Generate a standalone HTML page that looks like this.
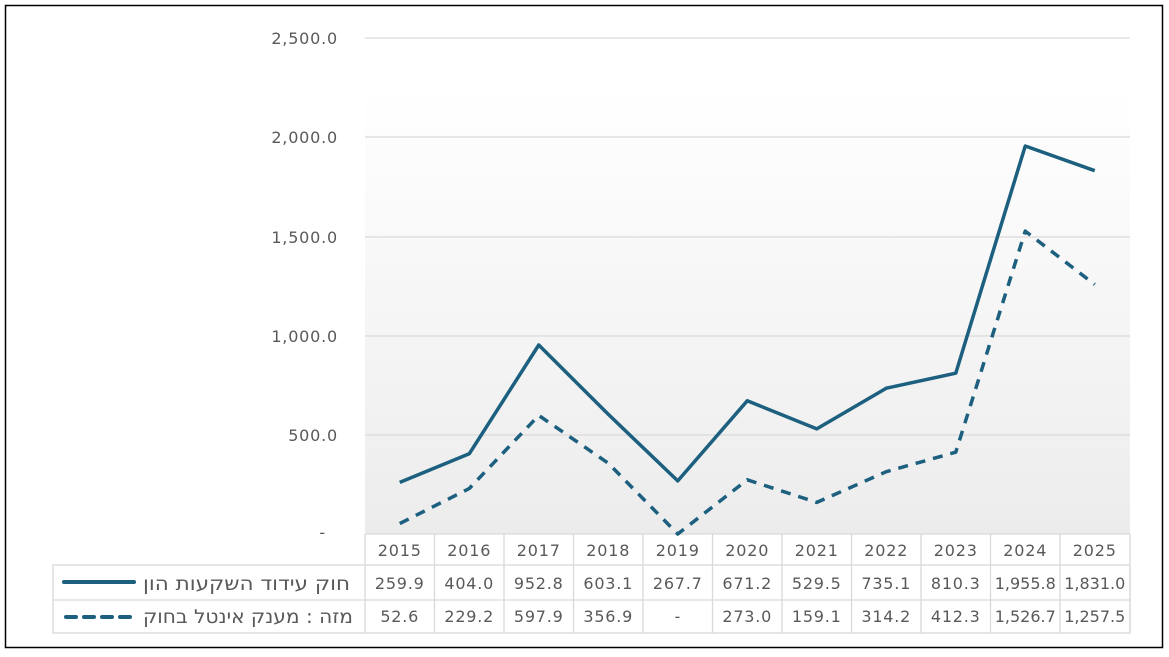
<!DOCTYPE html>
<html><head><meta charset="utf-8"><style>
body{margin:0;background:#fff;}
svg{display:block;font-family:"DejaVu Sans","Liberation Sans",sans-serif;}
</style></head><body>
<svg width="1169" height="657" viewBox="0 0 1169 657">
<defs><linearGradient id="g" x1="0" y1="0" x2="0" y2="1">
<stop offset="0" stop-color="#fff"/><stop offset="1" stop-color="#ececec"/></linearGradient></defs>
<rect x="5.5" y="5.5" width="1157" height="642" fill="#fff" stroke="#000" stroke-width="1.5"/>
<rect x="365" y="90" width="765" height="444" fill="url(#g)"/>
<g stroke="#d9d9d9" stroke-width="1.3">
<line x1="365" y1="38" x2="1130" y2="38"/>
<line x1="365" y1="137" x2="1130" y2="137"/>
<line x1="365" y1="237" x2="1130" y2="237"/>
<line x1="365" y1="336" x2="1130" y2="336"/>
<line x1="365" y1="435" x2="1130" y2="435"/>
</g>
<g fill="#595959" font-size="16" text-anchor="end" letter-spacing="0.8">
<text x="338" y="44">2,500.0</text>
<text x="338" y="143">2,000.0</text>
<text x="338" y="243">1,500.0</text>
<text x="338" y="342">1,000.0</text>
<text x="338" y="441">500.0</text>
<text x="326" y="538">-</text>
</g>
<g stroke="#d9d9d9" stroke-width="1.3" fill="none">
<rect x="53" y="565" width="1077" height="68"/>
<line x1="365" y1="534" x2="1130" y2="534"/>
<line x1="53" y1="600" x2="1130" y2="600"/>
<line x1="365" y1="534" x2="365" y2="633"/>
<line x1="434.5" y1="534" x2="434.5" y2="633"/>
<line x1="504" y1="534" x2="504" y2="633"/>
<line x1="573.5" y1="534" x2="573.5" y2="633"/>
<line x1="643" y1="534" x2="643" y2="633"/>
<line x1="712.5" y1="534" x2="712.5" y2="633"/>
<line x1="782" y1="534" x2="782" y2="633"/>
<line x1="851.5" y1="534" x2="851.5" y2="633"/>
<line x1="921" y1="534" x2="921" y2="633"/>
<line x1="990.5" y1="534" x2="990.5" y2="633"/>
<line x1="1060" y1="534" x2="1060" y2="633"/>
<line x1="1130" y1="534" x2="1130" y2="633"/>
</g>
<g fill="#595959" font-size="16" text-anchor="middle" letter-spacing="0.8">
<text x="399.75" y="556">2015</text><text x="469.25" y="556">2016</text><text x="538.75" y="556">2017</text><text x="608.25" y="556">2018</text><text x="677.75" y="556">2019</text><text x="747.25" y="556">2020</text><text x="816.75" y="556">2021</text><text x="886.25" y="556">2022</text><text x="955.75" y="556">2023</text><text x="1025.25" y="556">2024</text><text x="1094.75" y="556">2025</text>
<text x="399.75" y="589">259.9</text><text x="469.25" y="589">404.0</text><text x="538.75" y="589">952.8</text><text x="608.25" y="589">603.1</text><text x="677.75" y="589">267.7</text><text x="747.25" y="589">671.2</text><text x="816.75" y="589">529.5</text><text x="886.25" y="589">735.1</text><text x="955.75" y="589">810.3</text><text x="1025.25" y="589" letter-spacing="0">1,955.8</text><text x="1094.75" y="589" letter-spacing="0">1,831.0</text>
<text x="399.75" y="622">52.6</text><text x="469.25" y="622">229.2</text><text x="538.75" y="622">597.9</text><text x="608.25" y="622">356.9</text><text x="677.75" y="622">-</text><text x="747.25" y="622">273.0</text><text x="816.75" y="622">159.1</text><text x="886.25" y="622">314.2</text><text x="955.75" y="622">412.3</text><text x="1025.25" y="622" letter-spacing="0">1,526.7</text><text x="1094.75" y="622" letter-spacing="0">1,257.5</text>
</g>
<g fill="#595959" font-size="19">
<text x="143" y="590" textLength="207" lengthAdjust="spacingAndGlyphs">חוק עידוד השקעות הון</text>
<text x="143" y="623" textLength="210" lengthAdjust="spacingAndGlyphs">מזה : מענק אינטל בחוק</text>
</g>
<line x1="64" y1="582" x2="134" y2="582" stroke="#1c5f7f" stroke-width="4" stroke-linecap="round"/>
<line x1="66" y1="617" x2="134" y2="617" stroke="#1c5f7f" stroke-width="4" stroke-linecap="round" stroke-dasharray="10,8"/>
<polyline fill="none" stroke="#1c5f7f" stroke-width="3.5" stroke-linejoin="round" points="399.75,482.4 469.25,453.8 538.75,345 608.25,414.3 677.75,480.9 747.25,400.8 816.75,428.9 886.25,388.2 955.75,373.2 1025.25,146 1094.75,170.7"/>
<polyline fill="none" stroke="#1c5f7f" stroke-width="3.5" stroke-linejoin="round" stroke-dasharray="10,8" points="399.75,523.6 469.25,488.5 538.75,415.4 608.25,463.2 677.75,534 747.25,479.8 816.75,502.4 886.25,471.7 955.75,452.2 1025.25,231.1 1094.75,284.5"/>
</svg>
</body></html>
